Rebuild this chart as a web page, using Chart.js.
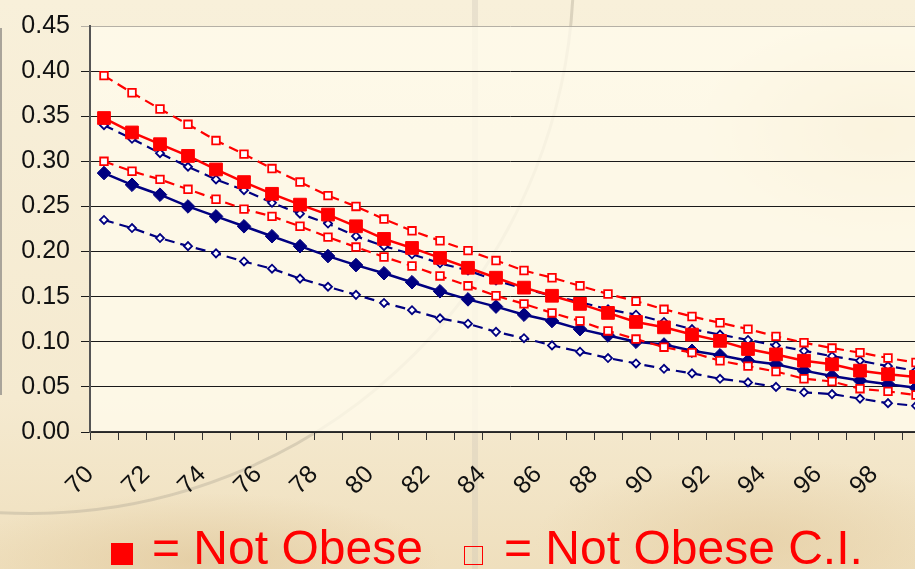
<!DOCTYPE html>
<html>
<head>
<meta charset="utf-8">
<script src="https://cdn.jsdelivr.net/npm/chart.js@4.4.1/dist/chart.umd.min.js"></script>
<style>
  html, body { margin: 0; padding: 0; width: 915px; height: 569px; overflow: hidden; }
  body {
    position: relative;
    font-family: "Liberation Sans", Arial, sans-serif;
    background:
      radial-gradient(ellipse 260px 160px at 880px 130px, rgba(226,200,150,0.6), rgba(226,200,150,0) 70%),
      radial-gradient(ellipse 320px 90px at 200px 560px, rgba(222,196,150,0.6), rgba(222,196,150,0) 75%),
      radial-gradient(ellipse 300px 110px at 760px 540px, rgba(225,200,155,0.55), rgba(225,200,155,0) 75%),
      linear-gradient(180deg, #f8f0da 0%, #f5ead0 70%, #efdfbd 100%);
  }
  .frame { position: absolute; left: 0; top: 28px; width: 2px; height: 367px; background: #a9a49a; }
  .arc {
    position: absolute; left: -515px; top: -575px; width: 1090px; height: 1090px;
    border-radius: 50%; border: 3px solid rgba(185,175,155,0.45); box-sizing: border-box;
  }
  .stripe { position: absolute; left: 472px; top: 0; width: 6px; height: 569px; background: rgba(205,198,182,0.35); }
  #wrap { position: absolute; left: 0; top: 0; width: 940px; height: 569px; }
  .legend { position: absolute; top: 524px; font-size: 48px; line-height: 48px; color: #ff0000; white-space: nowrap; }
  .box-fill { position: absolute; left: 111px; top: 543px; width: 22px; height: 22px; background: #ff0000; }
  .box-open { position: absolute; left: 464px; top: 546px; width: 19px; height: 19px; border: 1.5px solid #ff0000; box-sizing: border-box; }
</style>
</head>
<body>
<div class="arc"></div>
<div class="stripe"></div>
<div class="frame"></div>
<div id="wrap"><canvas id="chart" width="940" height="569"></canvas></div>
<div class="box-fill"></div>
<div class="legend" style="left:152px">= Not Obese</div>
<div class="box-open"></div>
<div class="legend" style="left:504px">= Not Obese C.I.</div>
<script>
// ages on the x axis
const ages = [70, 71, 72, 73, 74, 75, 76, 77, 78, 79, 80, 81, 82, 83, 84,
              85, 86, 87, 88, 89, 90, 91, 92, 93, 94, 95, 96, 97, 98, 99];

// not obese: estimate and confidence band
const notObese = [0.348, 0.332, 0.319, 0.306, 0.291, 0.277, 0.264, 0.252, 0.241, 0.228,
                  0.214, 0.204, 0.193, 0.182, 0.171, 0.160, 0.151, 0.142, 0.132, 0.122,
                  0.116, 0.108, 0.101, 0.092, 0.086, 0.079, 0.075, 0.068, 0.064, 0.061];
const notObeseHi = [0.395, 0.376, 0.358, 0.341, 0.323, 0.308, 0.292, 0.277, 0.262, 0.250,
                    0.236, 0.223, 0.212, 0.201, 0.190, 0.179, 0.171, 0.162, 0.153, 0.145,
                    0.136, 0.128, 0.121, 0.114, 0.106, 0.099, 0.093, 0.088, 0.082, 0.077];
const notObeseLo = [0.300, 0.289, 0.280, 0.269, 0.258, 0.247, 0.239, 0.228, 0.216, 0.205,
                    0.194, 0.184, 0.173, 0.162, 0.151, 0.142, 0.132, 0.123, 0.112, 0.103,
                    0.094, 0.088, 0.079, 0.073, 0.067, 0.059, 0.056, 0.048, 0.045, 0.041];

// obese: estimate and confidence band
const obese = [0.287, 0.274, 0.263, 0.250, 0.239, 0.228, 0.217, 0.206, 0.195, 0.185,
               0.176, 0.166, 0.156, 0.147, 0.139, 0.130, 0.123, 0.114, 0.107, 0.100,
               0.097, 0.090, 0.085, 0.079, 0.075, 0.068, 0.062, 0.057, 0.053, 0.049];
const obeseHi = [0.340, 0.325, 0.309, 0.294, 0.280, 0.268, 0.254, 0.242, 0.231, 0.217,
                 0.206, 0.197, 0.187, 0.179, 0.168, 0.159, 0.151, 0.144, 0.136, 0.130,
                 0.122, 0.114, 0.108, 0.102, 0.096, 0.090, 0.084, 0.079, 0.073, 0.068];
const obeseLo = [0.235, 0.226, 0.215, 0.206, 0.198, 0.189, 0.181, 0.170, 0.161, 0.152,
                 0.143, 0.135, 0.126, 0.120, 0.111, 0.104, 0.096, 0.089, 0.082, 0.076,
                 0.070, 0.065, 0.059, 0.055, 0.050, 0.044, 0.042, 0.037, 0.032, 0.029];

const RED = "#ff0000";
const NAVY = "#000080";
const DASH = [10, 6];

// light plot-area fill
const plotFill = {
    id: "plotFill",
    beforeDraw(chart) {
        const { ctx, chartArea: a } = chart;
        ctx.save();
        ctx.fillStyle = "rgba(255,251,236,0.78)";
        ctx.fillRect(a.left, a.top, a.right - a.left, a.bottom - a.top);
        ctx.restore();
    }
};

function estimate(label, data, color, style, radius) {
    return {
        label, data,
        borderColor: color, backgroundColor: color,
        borderWidth: 2.5,
        pointStyle: style, pointRadius: radius,
        pointBackgroundColor: color, pointBorderColor: color, pointBorderWidth: 1,
        tension: 0
    };
}

function band(label, data, color, style, radius) {
    return {
        label, data,
        borderColor: color, backgroundColor: "#ffffff",
        borderWidth: 2.2, borderDash: DASH,
        pointStyle: style, pointRadius: radius,
        pointBackgroundColor: "#ffffff", pointBorderColor: color, pointBorderWidth: 1.8,
        tension: 0
    };
}

new Chart(document.getElementById("chart"), {
    type: "line",
    data: {
        labels: ages,
        datasets: [
            estimate("Not Obese", notObese, RED, "rect", 9),
            band("Not Obese upper", notObeseHi, RED, "rect", 5.4),
            band("Not Obese lower", notObeseLo, RED, "rect", 5.4),
            estimate("Obese", obese, NAVY, "rectRot", 6.8),
            band("Obese upper", obeseHi, NAVY, "rectRot", 4),
            band("Obese lower", obeseLo, NAVY, "rectRot", 4)
        ]
    },
    options: {
        responsive: false,
        animation: false,
        layout: { padding: { top: 20, right: 2, left: 0, bottom: 0 } },
        plugins: { legend: { display: false }, tooltip: { enabled: false } },
        scales: {
            x: {
                type: "category",
                offset: true,
                afterFit(scale) {
                    scale.height = 137;
                    scale.paddingLeft = 0;
                    scale.paddingRight = 0;
                },
                grid: { offset: true, drawOnChartArea: false, drawTicks: true, tickLength: 8, color: "#333", lineWidth: 1 },
                border: { display: true, color: "#333", width: 1.5 },
                ticks: {
                    autoSkip: false, minRotation: 45, maxRotation: 45,
                    padding: 20,
                    labelOffset: -14,
                    color: "#111",
                    font: { family: "Liberation Sans", size: 25 },
                    callback(value, index) {
                        return index % 2 === 0 ? this.getLabelForValue(value) : "";
                    }
                }
            },
            y: {
                min: 0, max: 0.45,
                afterFit(scale) { scale.width = 90; },
                grid: {
                    color: ctx => (ctx.tick && ctx.tick.value >= 0.449 ? "#b5b0a5" : "#1a1a1a"),
                    lineWidth: 1, tickLength: 9
                },
                border: { display: true, color: "#555", width: 2 },
                ticks: {
                    stepSize: 0.05,
                    padding: 11,
                    color: "#111",
                    font: { family: "Liberation Sans", size: 25 },
                    callback: v => v.toFixed(2)
                }
            }
        }
    },
    plugins: [plotFill]
});
</script>
</body>
</html>
